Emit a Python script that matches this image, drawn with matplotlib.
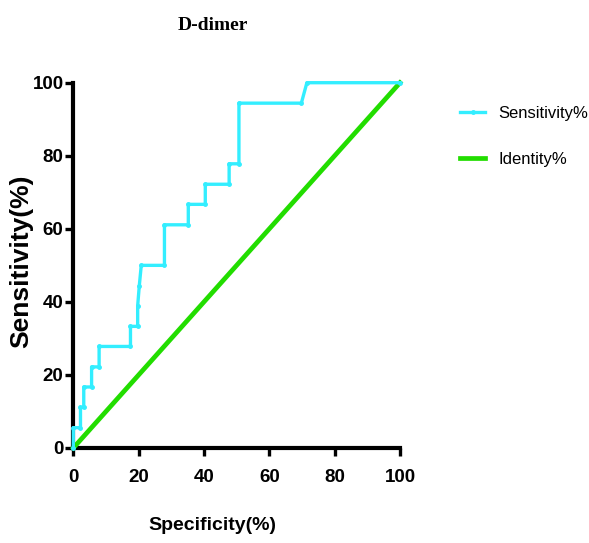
import matplotlib
matplotlib.use('Agg')
import matplotlib.pyplot as plt

# ROC data (x = 100 - specificity, y = sensitivity)
spec_pct = [0, 0, 2.2, 2.2, 3.2, 3.2, 5.6, 5.6, 7.9, 7.9, 17.5, 17.5, 19.7, 19.7,
            20.2, 20.8, 27.9, 27.9, 35.2, 35.2, 40.4, 40.4, 47.7, 47.7, 50.7, 50.7,
            69.8, 71.5, 100]
sens_pct = [0, 5.56, 5.56, 11.1, 11.1, 16.7, 16.7, 22.2, 22.2, 27.8, 27.8, 33.3, 33.3, 38.9,
            44.4, 50.0, 50.0, 61.1, 61.1, 66.7, 66.7, 72.2, 72.2, 77.8, 77.8, 94.4,
            94.4, 100, 100]
identity_pct = [0, 100]
ticks = [0, 20, 40, 60, 80, 100]

SANS = ['Liberation Sans Narrow', 'Liberation Sans']
CYAN = '#33EEFF'
GREEN = '#22DD00'

fig = plt.figure(figsize=(5.89, 5.43), dpi=100)
ax = fig.add_axes([73.3 / 589, 1 - 448 / 543, 326.7 / 589, 365.3 / 543])

ax.plot(spec_pct, sens_pct, '-o', color=CYAN, lw=2.4, ms=2.5,
        label='Sensitivity%', clip_on=False, zorder=4)
ax.plot(identity_pct, identity_pct, '-', color=GREEN, lw=3.4,
        label='Identity%', clip_on=False, zorder=3)

ax.set_xlim(0, 100)
ax.set_ylim(0, 100)
ax.set_xticks(ticks)
ax.set_yticks(ticks)

for side in ['top', 'right']:
    ax.spines[side].set_visible(False)
for side in ['left', 'bottom']:
    ax.spines[side].set_linewidth(3)
ax.tick_params(direction='out', length=6, width=2.4, color='black')
ax.tick_params(axis='x', pad=9)
ax.tick_params(axis='y', pad=1)
for lab in ax.get_xticklabels() + ax.get_yticklabels():
    lab.set_fontfamily(SANS)
    lab.set_fontweight('bold')
    lab.set_fontsize(13.5)

fig.text(213 / 589, 1 - 26 / 543, 'D-dimer', family='Liberation Serif',
         weight='bold', fontsize=14, ha='center', va='center')
fig.text(212.5 / 589, 1 - 526 / 543, 'Specificity(%)', family=SANS,
         weight='bold', fontsize=14, ha='center', va='center')
fig.text(21 / 589, 1 - 261 / 543, 'Sensitivity(%)', family=SANS,
         weight='bold', fontsize=19, ha='center', va='center', rotation=90)

fig.legend(loc='upper left', bbox_to_anchor=(452 / 589, 1 - 98 / 543),
           frameon=False, borderpad=0, handlelength=1.5, handletextpad=0.8,
           labelspacing=1.85, prop={'family': SANS, 'size': 12})

fig.savefig('out.png', dpi=100, facecolor='white')
